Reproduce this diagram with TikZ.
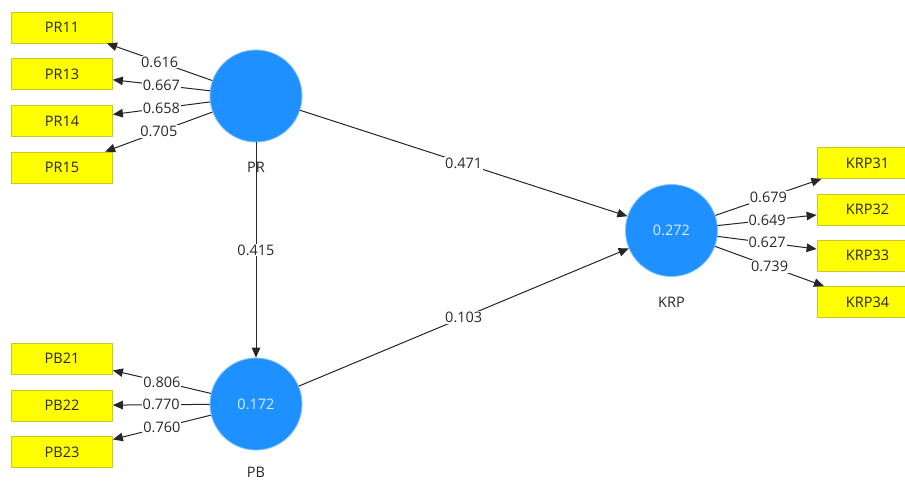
\documentclass[tikz,border=0pt]{standalone}
\usepackage{fontspec}
\setmainfont{Open Sans}
\usetikzlibrary{arrows.meta}
\definecolor{lvblue}{RGB}{30,144,255}
\definecolor{indyel}{RGB}{255,255,0}
\definecolor{indborder}{RGB}{200,200,40}
\definecolor{txt}{RGB}{40,40,40}
\begin{document}
\begin{tikzpicture}[x=1pt,y=-1pt,
  latent/.style={circle,fill=lvblue,draw=lvblue!55!white,line width=0.8pt,minimum size=92pt,inner sep=0pt,text=white!85!lvblue,font=\fontsize{14.5}{16}\selectfont},
  indicator/.style={rectangle,fill=indyel,draw=indborder,line width=0.8pt,minimum width=101pt,minimum height=31pt,inner sep=0pt,text=txt,font=\fontsize{14.5}{16}\selectfont},
  coef/.style={fill=white,inner sep=1pt,text=txt,font=\fontsize{14.5}{16}\selectfont},
  lvname/.style={text=txt,inner sep=0pt,font=\fontsize{14.5}{16}\selectfont},
  conn/.style={draw=black!85,line width=1pt,-{Triangle[length=10pt,width=8.5pt]}}
]
\useasboundingbox[fill=white] (0,0) rectangle (905,481);

% latent variables
\node[latent] (PR) at (256,96) {};
\node[latent] (PB) at (256,404) {0.172};
\node[latent] (KRP) at (671.5,230.5) {0.272};

% indicators
\node[indicator] (PR11) at (62,27.5) {PR11};
\node[indicator] (PR13) at (62,74) {PR13};
\node[indicator] (PR14) at (62,121) {PR14};
\node[indicator] (PR15) at (62,167.5) {PR15};

\node[indicator] (PB21) at (62,358.5) {PB21};
\node[indicator] (PB22) at (62,405.5) {PB22};
\node[indicator] (PB23) at (62,452) {PB23};

\node[indicator] (KRP31) at (867.5,163) {KRP31};
\node[indicator] (KRP32) at (867.5,209.5) {KRP32};
\node[indicator] (KRP33) at (867.5,255.5) {KRP33};
\node[indicator] (KRP34) at (867.5,302) {KRP34};

% outer loadings
\draw[conn] (PR) -- node[coef] {0.616} (PR11);
\draw[conn] (PR) -- node[coef] {0.667} (PR13);
\draw[conn] (PR) -- node[coef] {0.658} (PR14);
\draw[conn] (PR) -- node[coef] {0.705} (PR15);

\draw[conn] (PB) -- node[coef] {0.806} (PB21);
\draw[conn] (PB) -- node[coef] {0.770} (PB22);
\draw[conn] (PB) -- node[coef] {0.760} (PB23);

\draw[conn] (KRP) -- node[coef] {0.679} (KRP31);
\draw[conn] (KRP) -- node[coef] {0.649} (KRP32);
\draw[conn] (KRP) -- node[coef] {0.627} (KRP33);
\draw[conn] (KRP) -- node[coef] {0.739} (KRP34);

% structural paths
\draw[conn] (PR) -- node[coef] {0.471} (KRP);
\draw[conn] (PR) -- node[coef] {0.415} (PB);
\draw[conn] (PB) -- node[coef] {0.103} (KRP);

% latent variable names
\node[lvname] (PRname) at (256,167) {PR};
\node[lvname] (PBname) at (256,472) {PB};
\node[lvname] (KRPname) at (671.5,302) {KRP};
\end{tikzpicture}
\end{document}
